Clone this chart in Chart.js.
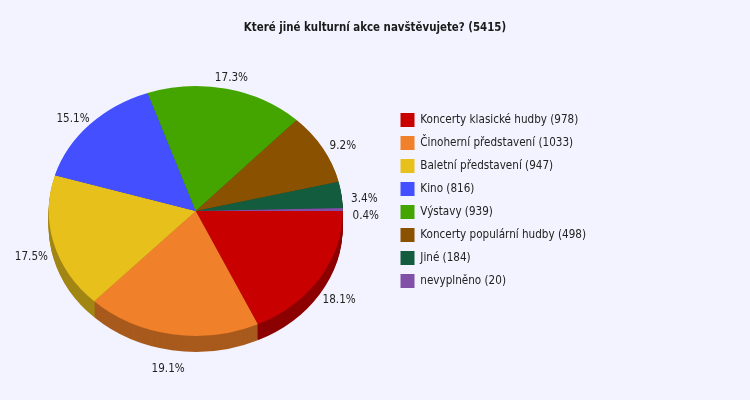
<!DOCTYPE html>
<html>
<head>
<meta charset="utf-8">
<script src="https://cdn.jsdelivr.net/npm/chart.js@4.4.1/dist/chart.umd.min.js"></script>
<style>
  body { margin: 0; background: #f3f3ff; }
  #wrap { position: relative; width: 750px; height: 400px; }
  #title {
    position: absolute; left: 0; top: 20px; width: 750px; text-align: center;
    font: bold 11.4px "DejaVu Sans Condensed", "DejaVu Sans", sans-serif; color: #1a1a1a;
  }
</style>
</head>
<body>
<div id="wrap">
  <div id="title"></div>
  <canvas id="pieChart" width="750" height="400"></canvas>
</div>
<script>
const question = "Které jiné kulturní akce navštěvujete?";
const categories = [
    "Koncerty klasické hudby",
    "Činoherní představení",
    "Baletní představení",
    "Kino",
    "Výstavy",
    "Koncerty populární hudby",
    "Jiné",
    "nevyplněno"
];
const counts = [978, 1033, 947, 816, 939, 498, 184, 20];

const sliceColors = ["#c80000", "#f0802a", "#e8c01c", "#4450ff", "#44a400", "#8a5200", "#145c3e", "#8050a8"];
const FONT = "'DejaVu Sans Condensed', 'DejaVu Sans', sans-serif";
const tilt = 0.85;   // vertical squash of the pie
const depth = 16;    // thickness of the pie edge

// side of the pie is a darker shade of the top
function shade(hex, f) {
    const n = parseInt(hex.slice(1), 16);
    const r = Math.round(((n >> 16) & 255) * f);
    const g = Math.round(((n >> 8) & 255) * f);
    const b = Math.round((n & 255) * f);
    return `rgb(${r}, ${g}, ${b})`;
}
const sideColors = sliceColors.map(c => shade(c, 0.7));

const total = counts.reduce((a, b) => a + b, 0);
document.getElementById("title").textContent = `${question} (${total})`;

function squash(ctx, cx, cy, dy) {
    ctx.translate(0, dy);
    ctx.translate(cx, cy);
    ctx.scale(1, tilt);
    ctx.translate(-cx, -cy);
}

const pie3d = {
    id: "pie3d",
    beforeDatasetsDraw(chart) {
        const ctx = chart.ctx;
        const arcs = chart.getDatasetMeta(0).data;
        const cx = arcs[0].x, cy = arcs[0].y;
        // stack darker copies downwards to build the edge
        for (let d = depth; d > 0; d--) {
            ctx.save();
            squash(ctx, cx, cy, d);
            arcs.forEach((arc, i) => {
                const side = Object.create(arc);
                side.options = Object.assign({}, arc.options, { backgroundColor: sideColors[i] });
                side.draw(ctx);
            });
            ctx.restore();
        }
        ctx.save();
        squash(ctx, cx, cy, 0);
    },
    afterDatasetsDraw(chart) {
        const ctx = chart.ctx;
        ctx.restore();
        const arcs = chart.getDatasetMeta(0).data;
        ctx.save();
        ctx.font = "11.6px " + FONT;
        ctx.fillStyle = "#222";
        ctx.textAlign = "center";
        ctx.textBaseline = "middle";
        arcs.forEach((arc, i) => {
            const { x, y, startAngle, endAngle, outerRadius } =
                arc.getProps(["x", "y", "startAngle", "endAngle", "outerRadius"], true);
            const mid = (startAngle + endAngle) / 2;
            const cos = Math.cos(mid), sin = Math.sin(mid);
            const lx = x + cos * (outerRadius + 23);
            const ly = y + sin * (outerRadius * tilt + 18) + 7 + (sin > 0 ? 10 * sin : 0);
            ctx.fillText((counts[i] / total * 100).toFixed(1) + "%", lx, ly);
        });
        ctx.restore();
    }
};

new Chart(document.getElementById("pieChart").getContext("2d"), {
    type: "pie",
    data: {
        labels: categories.map((c, i) => `${c} (${counts[i]})`),
        datasets: [{
            data: counts,
            backgroundColor: sliceColors,
            borderWidth: 0,
            radius: 147,
            clip: false
        }]
    },
    options: {
        responsive: false,
        animation: false,
        rotation: 90,
        layout: { padding: { top: 43, bottom: 21, left: 0, right: 154 } },
        plugins: {
            title: { display: false },
            tooltip: { enabled: false },
            legend: {
                position: "right",
                align: "start",
                title: { display: true, text: " ", font: { size: 10, lineHeight: 1 }, padding: { top: 51, bottom: 0 } },
                labels: {
                    boxWidth: 14,
                    boxHeight: 14,
                    padding: 9,
                    color: "#222",
                    font: { family: FONT, size: 11.6 }
                }
            }
        }
    },
    plugins: [pie3d]
});
</script>
</body>
</html>
